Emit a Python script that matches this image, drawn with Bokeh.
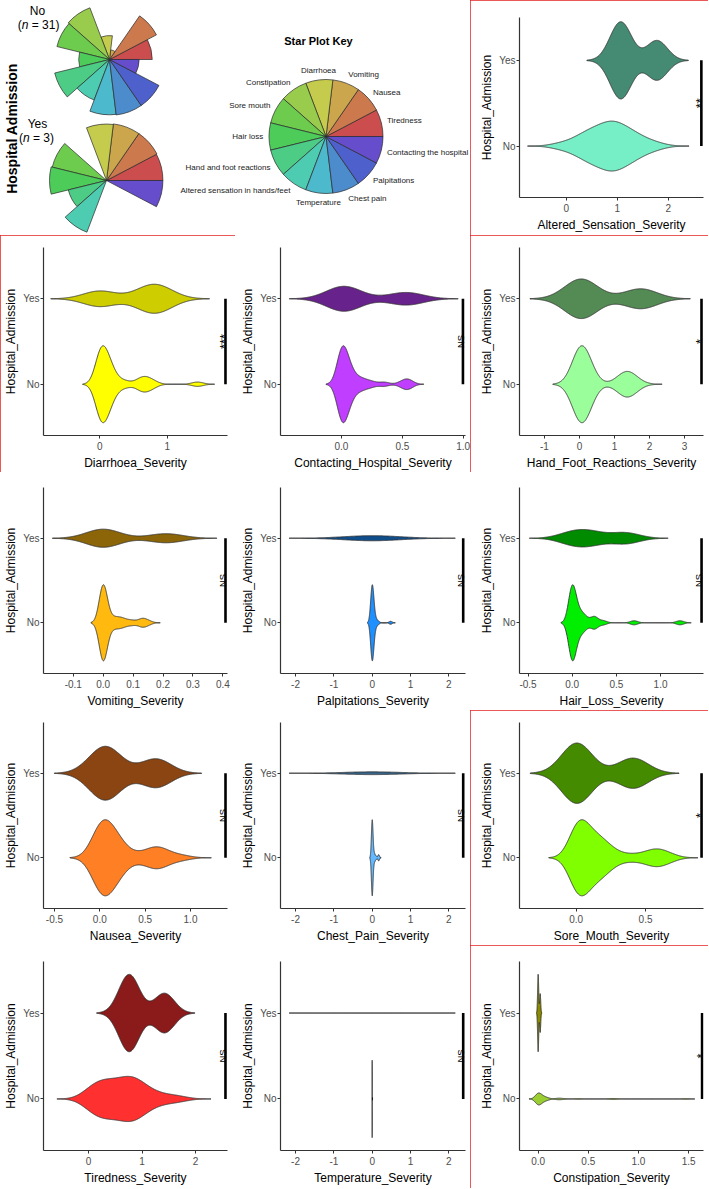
import colorsys
import numpy as np
from bokeh.plotting import figure
from bokeh.layouts import column, row
from bokeh.models import Range1d, FixedTicker, ColumnDataSource
from bokeh.core.properties import value
from bokeh.embed import file_html
from bokeh.resources import INLINE

FONT = "Liberation Sans"

# ---------------- star plot data ----------------
star_segments = ["Tiredness", "Nausea", "Vomiting", "Diarrhoea", "Constipation",
                 "Sore mouth", "Hair loss", "Hand and foot reactions",
                 "Altered sensation in hands/feet", "Temperature", "Chest pain",
                 "Palpitations", "Contacting the hospital"]
star_no = [0.75, 0.93, 0.17, 0.42, 0.97, 0.95, 0.54, 0.99, 0.76, 0.97, 0.98, 0.98, 0.52]
star_yes = [0.99, 1.0, 1.0, 0.99, 0.0, 0.98, 1.0, 0.69, 0.97, 0.0, 0.0, 0.0, 0.99]
star_key = [1.0] * 13
group_names = ["No", "Yes"]
group_n = ["31", "3"]

# ---------------- violin data (estimated observations) ----------------
groups = ["No", "Yes"]

altered_yes = [1.02, 1.12, 1.78]
altered_no_vals = [-0.15, 0.1, 0.2, 0.3, 0.4, 0.5, 0.6, 0.7, 0.8, 0.9, 1.0, 1.1, 1.2, 1.3, 1.4, 1.5, 1.6, 1.8]
altered_no_counts = [1, 1, 1, 1, 2, 2, 2, 2, 3, 3, 3, 2, 2, 2, 1, 1, 1, 1]

diarrhoea_yes = [0.0, 0.72, 0.9]
diarrhoea_no_vals = [0.0, 0.05, 0.1, 0.15, 0.2, 0.3, 0.4, 0.6, 0.7, 0.8, 1.45]
diarrhoea_no_counts = [9, 5, 4, 3, 2, 1, 1, 2, 2, 1, 1]

contact_yes = [0.0, 0.04, 0.53]
contact_no_vals = [0.0, 0.02, 0.04, 0.06, 0.08, 0.1, 0.15, 0.2, 0.25, 0.35, 0.5, 0.55]
contact_no_counts = [12, 3, 3, 2, 2, 1, 2, 1, 1, 1, 1, 2]

handfoot_yes = [0.0, 0.1, 1.75]
handfoot_no_vals = [0.0, 0.1, 0.2, 0.3, 1.2, 1.35, 1.45, 1.6]
handfoot_no_counts = [12, 6, 3, 2, 2, 3, 2, 1]

vomiting_yes = [0.0, 0.0, 0.21]
vomiting_no_vals = [0.0, 0.02, 0.04, 0.06, 0.08, 0.1, 0.13, 0.15]
vomiting_no_counts = [20, 2, 2, 2, 1, 1, 2, 1]

palp_yes = [0.0, 0.0, 0.0]
palp_no_vals = [0.0, 0.03, 0.06, 0.1, 0.15, 0.48]
palp_no_counts = [24, 2, 2, 1, 1, 1]

hair_yes = [0.0, 0.22, 0.6]
hair_no_vals = [0.0, 0.05, 0.1, 0.15, 0.25, 0.35, 0.7, 1.22]
hair_no_counts = [17, 3, 3, 2, 3, 1, 1, 1]

nausea_yes = [0.0, 0.12, 0.62]
nausea_no_vals = [0.0, 0.05, 0.1, 0.15, 0.2, 0.25, 0.4, 0.55, 0.65, 0.75, 0.9]
nausea_no_counts = [9, 4, 3, 3, 2, 2, 1, 2, 3, 1, 1]

chest_yes = [0.0, 0.0, 0.0]
chest_no_vals = [0.0, 0.03, 0.06, 0.1, 0.17]
chest_no_counts = [24, 2, 2, 1, 2]

sore_yes = [0.0, 0.01, 0.41]
sore_no_vals = [0.0, 0.03, 0.06, 0.1, 0.15, 0.2, 0.25, 0.3, 0.4, 0.5, 0.55, 0.6, 0.68]
sore_no_counts = [7, 4, 3, 3, 3, 3, 1, 1, 1, 1, 1, 2, 1]

tired_yes = [0.72, 0.8, 1.42]
tired_no_vals = [0.0, 0.1, 0.2, 0.3, 0.4, 0.5, 0.6, 0.7, 0.8, 0.9, 1.0, 1.1, 1.2, 1.3, 1.5, 1.7]
tired_no_counts = [2, 2, 2, 3, 2, 2, 2, 3, 3, 3, 2, 1, 1, 1, 1, 1]

temp_yes = [0.0, 0.0, 0.0]
temp_no_vals = [0.0, 0.01]
temp_no_counts = [30, 1]

const_yes = [0.0, 0.0, 0.02]
const_no_vals = [0.0, 0.02, 0.04, 0.06, 0.08, 0.1, 0.2, 0.25, 0.4, 0.72, 0.77, 1.47]
const_no_counts = [14, 3, 2, 2, 2, 1, 2, 1, 1, 1, 1, 1]

# significance bar position on the severity axis, and label
sig_positions = [2.65, 1.865, 0.998, 3.486, 0.4086, 2.374, 1.464, 1.386, 2.374, 0.904, 2.56, 2.374, 1.634]
sig_labels = ["**", "***", "NS", "*", "NS", "NS", "NS", "NS", "NS", "*", "NS", "NS", "*"]

ticks_int2 = [0, 1, 2]
ticks_int2_labels = ["0", "1", "2"]
ticks_diar = [0, 1]
ticks_diar_labels = ["0", "1"]
ticks_unit = [0.0, 0.5, 1.0]
ticks_unit_labels = ["0.0", "0.5", "1.0"]
ticks_hf = [-1, 0, 1, 2, 3]
ticks_hf_labels = ["-1", "0", "1", "2", "3"]
ticks_vom = [-0.1, 0.0, 0.1, 0.2, 0.3, 0.4]
ticks_vom_labels = ["-0.1", "0.0", "0.1", "0.2", "0.3", "0.4"]
ticks_pm2 = [-2, -1, 0, 1, 2]
ticks_pm2_labels = ["-2", "-1", "0", "1", "2"]
ticks_half = [-0.5, 0.0, 0.5, 1.0]
ticks_half_labels = ["-0.5", "0.0", "0.5", "1.0"]
ticks_sore = [0.0, 0.5]
ticks_sore_labels = ["0.0", "0.5"]
ticks_const = [0.0, 0.5, 1.0, 1.5]
ticks_const_labels = ["0.0", "0.5", "1.0", "1.5"]

# ---------------- helpers ----------------
def nrd0(x):
    hi = np.std(x, ddof=1)
    q75, q25 = np.percentile(x, [75, 25])
    lo = min(hi, (q75 - q25) / 1.34)
    if not lo > 0:
        lo = hi if hi > 0 else (abs(x[0]) if abs(x[0]) > 0 else 1.0)
    return 0.9 * lo * len(x) ** -0.2


def density(x, n=512):
    bw = nrd0(x)
    grid = np.linspace(x.min() - 3 * bw, x.max() + 3 * bw, n)
    z = (grid[:, None] - x[None, :]) / bw
    d = np.exp(-0.5 * z ** 2).sum(axis=1) / (len(x) * bw * np.sqrt(2 * np.pi))
    return grid, d


RED_BOX = {"outline": "2px solid #e3211f", "outline-offset": "-2px"}


def violin_panel(title, yes, no_vals, no_counts, col_yes, col_no, xr, ticks, labels,
                 sig_x, sig, boxed, w, h, bl, br, bt, bb, yr=(0.4, 2.6)):
    p = figure(width=w, height=h, x_range=Range1d(*xr), y_range=Range1d(*yr),
               output_backend="svg", toolbar_location=None, frame_align=False,
               min_border_left=bl, min_border_right=br, min_border_top=bt, min_border_bottom=bb,
               outline_line_color=None, background_fill_color="white",
               border_fill_color="white")
    if boxed:
        p.styles = RED_BOX
    data = {"No": np.repeat(np.asarray(no_vals, float), no_counts),
            "Yes": np.asarray(yes, float)}
    dens = {g: density(data[g]) for g in groups}
    dmax = max(d.max() for _, d in dens.values())
    xs, ys = [], []
    for i, g in enumerate(groups):
        grid, d = dens[g]
        hw = 0.45 * d / dmax
        pos = i + 1
        xs.append(np.concatenate([grid, grid[::-1]]))
        ys.append(np.concatenate([pos + hw, (pos - hw)[::-1]]))
    src = ColumnDataSource(dict(xs=xs, ys=ys, fill=[col_no, col_yes]))
    p.patches("xs", "ys", source=src, fill_color="fill", line_color="#333333",
              line_width=0.9)
    # significance bar + rotated label to its left
    p.segment(x0=[sig_x], y0=[1], x1=[sig_x], y1=[2], line_color="black", line_width=2.6)
    upp = (xr[1] - xr[0]) / (w - bl - br)  # data units per pixel
    if sig == "NS":
        p.text(x=[sig_x - 2.6 * upp], y=[1.5], text=[sig], angle=np.pi / 2,
               text_align="center", text_baseline="alphabetic",
               text_font=value(FONT), text_font_size=value("9.5px"), text_color="black")
    else:
        p.text(x=[sig_x - 8.5 * upp], y=[1.5], text=[sig], angle=np.pi / 2,
               text_align="center", text_baseline="top",
               text_font=value(FONT), text_font_size=value("13px"), text_color="black")
    # axes
    p.grid.visible = False
    p.xaxis.ticker = FixedTicker(ticks=list(ticks))
    p.xaxis.major_label_overrides = {t: l for t, l in zip(ticks, labels)}
    p.yaxis.ticker = FixedTicker(ticks=[1, 2])
    p.yaxis.major_label_overrides = {1: groups[0], 2: groups[1]}
    p.xaxis.axis_label = title
    p.yaxis.axis_label = "Hospital_Admission"
    for ax in (p.xaxis[0], p.yaxis[0]):
        ax.axis_line_color = "#333333"
        ax.axis_line_width = 1.2
        ax.major_tick_line_color = "#333333"
        ax.major_tick_line_width = 1.0
        ax.major_tick_out = 3
        ax.major_tick_in = 0
        ax.minor_tick_line_color = None
        ax.major_label_text_font = FONT
        ax.major_label_text_font_size = "10px"
        ax.major_label_text_color = "#4d4d4d"
        ax.axis_label_text_font = FONT
        ax.axis_label_text_font_size = "12px"
        ax.axis_label_text_font_style = "normal"
        ax.axis_label_text_color = "black"
    p.xaxis.major_label_standoff = 3
    p.xaxis.axis_label_standoff = 3
    p.yaxis.major_label_standoff = 1
    p.yaxis.axis_label_standoff = 2
    return p


# ---------------- star plot figure (page pixels = data units) ----------------
sp = figure(width=470, height=235, x_range=Range1d(0, 470), y_range=Range1d(-235, 0),
            x_axis_type=None, y_axis_type=None, min_border=0, outline_line_color=None,
            frame_align=False, output_backend="svg", toolbar_location=None,
            border_fill_color="white", background_fill_color="white")
sp.grid.visible = False

nseg = len(star_segments)
step = 2 * np.pi / nseg
starts = np.arange(nseg) * step
ends = starts + step
seg_colors = []
for i in range(nseg):
    r_, g_, b_ = colorsys.hsv_to_rgb(i * 0.7 / (nseg - 1), 0.62, 0.8)
    seg_colors.append("#%02x%02x%02x" % (int(r_ * 255), int(g_ * 255), int(b_ * 255)))

R = 57.0
star_centers = {"No": (109, 59), "Yes": (106, 180), "Key": (325.5, 136)}
for key, vals in (("No", star_no), ("Yes", star_yes), ("Key", star_key)):
    cx, cy = star_centers[key]
    v = np.asarray(vals)
    keep = v > 0
    src = ColumnDataSource(dict(x=[cx] * int(keep.sum()), y=[-cy] * int(keep.sum()),
                                r=(v[keep] * R).tolist(),
                                s=starts[keep].tolist(), e=ends[keep].tolist(),
                                c=[c for c, k in zip(seg_colors, keep) if k]))
    sp.wedge(x="x", y="y", radius="r", start_angle="s", end_angle="e", source=src,
             fill_color="c", line_color="#2a2a2a", line_width=0.7)

# key labels (placed like R's stars() key)
kx, ky = star_centers["Key"]
mid = starts + step / 2
lr = 1.1 * R
lab_x, lab_y, lab_al = [], [], []
for th in mid:
    c = np.cos(th)
    deg = np.degrees(th)
    if deg <= 90:
        adj = (1 - deg / 90) / 2
    elif deg <= 270:
        adj = (deg - 90) / 180
    else:
        adj = 1 - (deg - 270) / 180
    lab_x.append(kx + lr * c)
    lab_y.append(-ky + lr * np.sin(th) - (adj - 0.5) * 9)
    lab_al.append("left" if c > 0.2 else ("right" if c < -0.2 else "center"))
sp.text(x="x", y="y", text="t", text_align="a", source=ColumnDataSource(
    dict(x=lab_x, y=lab_y, t=star_segments, a=lab_al)),
    text_baseline="middle", text_font=value(FONT), text_font_size=value("8px"),
    text_color="#1a1a1a")
sp.text(x=[318], y=[-40], text=["Star Plot Key"], text_align="center",
        text_baseline="middle", text_font=value(FONT), text_font_size=value("11px"),
        text_font_style="bold", text_color="black")

# group headings: "No (n = 31)", "Yes (n = 3)"
head_pos = {"No": (37, 10, 24, 21.2), "Yes": (37, 123, 137, 22.5)}
for g, n in zip(group_names, group_n):
    hx, hy1, hy2, x0 = head_pos[g]
    sp.text(x=[hx], y=[-hy1], text=[g], text_align="center", text_baseline="middle",
            text_font=value(FONT), text_font_size=value("12px"), text_color="black")
    sp.text(x=[x0], y=[-hy2], text=["("], text_align="right", text_baseline="middle",
            text_font=value(FONT), text_font_size=value("12px"), text_color="black")
    sp.text(x=[x0], y=[-hy2], text=["n"], text_align="left", text_baseline="middle",
            text_font=value(FONT), text_font_size=value("12px"), text_font_style="italic",
            text_color="black")
    sp.text(x=[x0 + 10], y=[-hy2], text=["= " + n + ")"], text_align="left",
            text_baseline="middle", text_font=value(FONT), text_font_size=value("12px"),
            text_color="black")
sp.text(x=[11], y=[-128], text=["Hospital Admission"], angle=np.pi / 2, text_align="center",
        text_baseline="middle", text_font=value(FONT), text_font_size=value("14px"),
        text_font_style="bold", text_color="black")

# ---------------- violin panels ----------------
# column geometry: (width, left border, right border); row: (height, top, bottom)
C1 = (235, 43, 8)
C2 = (235, 45, 5)
C3 = (238, 49, 5)
R1 = (235, 17, 38)
R2 = (237, 12, 37)
R3 = (238, 15, 35)
R4 = (235, 12, 34)
R5 = (243, 16, 38)


def vp(title, yes, nv, nc, cy, cn, xr, tk, tl, k, boxed, rr, cc, yr=(0.4, 2.6)):
    return violin_panel(title, yes, nv, nc, cy, cn, xr, tk, tl, sig_positions[k], sig_labels[k],
                        boxed, cc[0], rr[0], cc[1], cc[2], rr[1], rr[2], yr=yr)


p_alt = vp("Altered_Sensation_Severity", altered_yes, altered_no_vals, altered_no_counts,
           "#458B74", "#76EEC6", (-0.916, 2.692), ticks_int2, ticks_int2_labels, 0, True, R1, C3,
           yr=(0.4, 2.5))

p_dia = vp("Diarrhoea_Severity", diarrhoea_yes, diarrhoea_no_vals, diarrhoea_no_counts,
           "#CDCD00", "#FFFF00", (-0.835, 1.895), ticks_diar, ticks_diar_labels, 1, True, R2, C1)
p_con = vp("Contacting_Hospital_Severity", contact_yes, contact_no_vals, contact_no_counts,
           "#68228B", "#BF3EFF", (-0.501, 1.019), ticks_unit, ticks_unit_labels, 2, False, R2, C2)
p_hf = vp("Hand_Foot_Reactions_Severity", handfoot_yes, handfoot_no_vals, handfoot_no_counts,
          "#548B54", "#9AFF9A", (-1.714, 3.543), ticks_hf, ticks_hf_labels, 3, True, R2, C3)

p_vom = vp("Vomiting_Severity", vomiting_yes, vomiting_no_vals, vomiting_no_counts,
           "#8B6508", "#FFB90F", (-0.1995, 0.4153), ticks_vom, ticks_vom_labels, 4, False, R3, C1)
p_pal = vp("Palpitations_Severity", palp_yes, palp_no_vals, palp_no_counts,
           "#104E8B", "#1E90FF", (-2.392, 2.434), ticks_pm2, ticks_pm2_labels, 5, False, R3, C2)
p_hai = vp("Hair_Loss_Severity", hair_yes, hair_no_vals, hair_no_counts,
           "#008B00", "#00EE00", (-0.597, 1.486), ticks_half, ticks_half_labels, 6, False, R3, C3)

p_nau = vp("Nausea_Severity", nausea_yes, nausea_no_vals, nausea_no_counts,
           "#8B4513", "#FF7F24", (-0.621, 1.408), ticks_half, ticks_half_labels, 7, False, R4, C1)
p_che = vp("Chest_Pain_Severity", chest_yes, chest_no_vals, chest_no_counts,
           "#36648B", "#63B8FF", (-2.392, 2.434), ticks_pm2, ticks_pm2_labels, 8, False, R4, C2)
p_sor = vp("Sore_Mouth_Severity", sore_yes, sore_no_vals, sore_no_counts,
           "#458B00", "#7FFF00", (-0.409, 0.918), ticks_sore, ticks_sore_labels, 9, True, R4, C3)

p_tir = vp("Tiredness_Severity", tired_yes, tired_no_vals, tired_no_counts,
           "#8B1A1A", "#FF3030", (-0.841, 2.598), ticks_int2, ticks_int2_labels, 10, False, R5, C1)
p_tem = vp("Temperature_Severity", temp_yes, temp_no_vals, temp_no_counts,
           "#5a5a5a", "#5a5a5a", (-2.392, 2.434), ticks_pm2, ticks_pm2_labels, 11, False, R5, C2)
p_cst = vp("Constipation_Severity", const_yes, const_no_vals, const_no_counts,
           "#8B8B00", "#9ACD32", (-0.186, 1.648), ticks_const, ticks_const_labels, 12, True, R5, C3)

layout = column(
    row(sp, p_alt),
    row(p_dia, p_con, p_hf),
    row(p_vom, p_pal, p_hai),
    row(p_nau, p_che, p_sor),
    row(p_tir, p_tem, p_cst),
)

open("out.html", "w").write(file_html(layout, INLINE))
